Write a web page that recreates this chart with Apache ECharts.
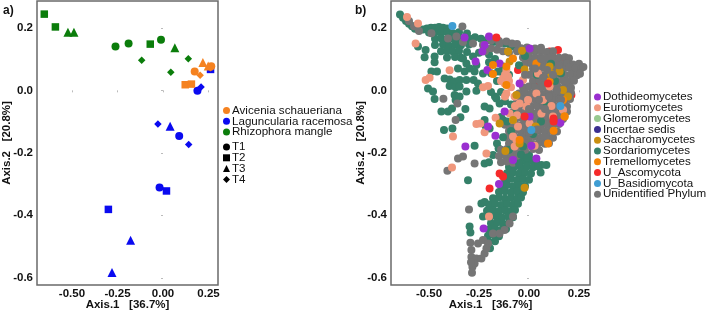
<!DOCTYPE html>
<html><head><meta charset="utf-8">
<style>html,body{margin:0;padding:0;background:#fff}#c{width:707px;height:313px}</style>
<script src="https://cdn.jsdelivr.net/npm/echarts@6/dist/echarts.min.js"></script></head>
<body><div id="c"></div>
<script>
// Panel a: values, [Axis.1, Axis.2]
const avicenia_T1=[[0.174,0.060],[0.265,0.077]];
const avicenia_T2=[[0.122,0.018],[0.156,0.020]];
const avicenia_T3=[[0.219,0.089],[0.248,0.078]];
const avicenia_T4=[[0.204,0.048],[0.260,0.072]];
const laguncularia_T1=[[0.189,-0.001],[0.089,-0.146],[-0.019,-0.311]];
const laguncularia_T2=[[0.261,0.067],[0.019,-0.322],[-0.300,-0.381]];
const laguncularia_T3=[[0.039,-0.115],[-0.178,-0.480],[-0.280,-0.583]];
const laguncularia_T4=[[0.209,0.011],[-0.028,-0.108],[0.141,-0.173]];
const rhizophora_T1=[[-0.261,0.140],[-0.189,0.150],[-0.011,0.162]];
const rhizophora_T2=[[-0.652,0.244],[-0.591,0.203],[-0.070,0.148]];
const rhizophora_T3=[[-0.522,0.186],[-0.489,0.186],[0.065,0.136]];
const rhizophora_T4=[[-0.117,0.096],[0.043,0.058],[0.139,0.101]];
const speciesNames=['Avicenia schaueriana','Laguncularia racemosa','Rhizophora mangle'];
const timeNames=['T1','T2','T3','T4'];
const classNames=['Dothideomycetes','Eurotiomycetes','Glomeromycetes','Incertae sedis','Saccharomycetes','Sordariomycetes','Tremellomycetes','U_Ascomycota','U_Basidiomycota','Unidentified Phylum'];
const xTicks=[-0.5,-0.25,0,0.25];
const yTicks=[-0.6,-0.4,-0.2,0,0.2];

// Panel b: values, [Axis.1, Axis.2]
const sordarioBack=[
[-.645,.243],[-.63,.232],[-.615,.222],[-.6,.213],[-.585,.205],[-.57,.197],[-.55,.192],[-.53,.195],[-.51,.198],[-.49,.2],[-.47,.2],[-.45,.203],[-.43,.2],[-.41,.198],
[-.5,.185],[-.47,.186],[-.44,.184],[-.41,.187],[-.38,.183],[-.35,.186],[-.31,.182],
[-.47,.165],[-.44,.167],[-.41,.164],[-.38,.166],[-.35,.163],[-.32,.167],[-.29,.164],
[-.47,.145],[-.43,.147],[-.40,.143],[-.37,.146],[-.34,.144],[-.30,.147],
[-.44,.125],[-.41,.127],[-.38,.124],[-.35,.126],[-.31,.123],
[-.41,.105],[-.37,.107],[-.34,.104],[-.28,.108],
[-.555,.14],[-.517,.129],[-.522,.106],[-.472,.108],[-.472,.09],[-.488,.06],[-.46,.06],[-.505,.006],[-.48,-.004],[-.472,-.028],
[-.438,-.068],[-.405,-.068],[-.385,-.058],[-.425,-.127],[-.383,-.122],[-.318,-.06],[-.367,-.031],[-.343,-.086],
[-.422,.038],[-.397,.035],[-.372,.028],[-.347,.033],[-.313,.033],[-.322,.06],[-.272,.06],[-.277,.033],[-.255,.022],[-.263,-.001],[-.313,-.004],[-.397,.014],[-.367,.01],[-.347,.012],[-.372,-.015],[-.347,-.02],[-.355,.07],[-.297,.07],[-.23,.054],[-.263,.081],[-.313,.086],[-.33,.102],
[-.222,-.052],[-.197,-.058],[-.163,-.026],[-.147,-.042],[-.13,-.095],[-.222,-.095],[-.217,-.114],[-.197,-.122],[-.272,-.177],[-.16,-.17],[-.152,-.186],[-.18,-.207],[-.222,-.234],[-.2,-.23],[-.305,-.288],[-.297,-.436],[-.293,-.455],[-.23,-.404],[-.238,-.362],[-.222,-.357],[.058,-.263],[.087,-.239],[.062,-.239],
[-.27,.17],[-.24,.165],[-.21,.16],[-.18,.155],[-.15,.15],[-.12,.15],[-.09,.14],[-.06,.13],[-.25,.12],[-.2,.115],[-.2,.09],[-.17,.1],
[-.06,-.205],[-.03,-.203],[0,-.207],
[-.08,-.225],[-.05,-.223],[-.02,-.226],[.01,-.224],[.035,-.227],
[-.10,-.245],[-.07,-.243],[-.04,-.247],[-.01,-.244],[.02,-.246],[.045,-.243],
[-.11,-.265],[-.08,-.263],[-.05,-.267],[-.02,-.264],[.01,-.266],
[-.12,-.285],[-.09,-.283],[-.06,-.287],[-.03,-.284],[0,-.286],
[-.14,-.305],[-.11,-.303],[-.08,-.307],[-.05,-.304],[-.02,-.306],
[-.15,-.325],[-.12,-.323],[-.09,-.327],[-.06,-.324],[-.03,-.326],
[-.18,-.345],[-.15,-.343],[-.12,-.347],[-.09,-.344],[-.06,-.346],[-.04,-.343],
[-.20,-.365],[-.17,-.363],[-.14,-.367],[-.11,-.364],[-.08,-.366],[-.055,-.363],
[-.21,-.385],[-.18,-.383],[-.15,-.387],[-.12,-.384],[-.09,-.386],[-.07,-.383],
[-.195,-.405],[-.165,-.403],[-.135,-.407],[-.105,-.404],[-.08,-.406],
[-.19,-.425],[-.16,-.423],[-.13,-.427],[-.10,-.424],
[-.2,-.445],[-.17,-.443],[-.14,-.447],[-.115,-.444],
[-.205,-.465],[-.175,-.463],[-.15,-.467],
[-.20,-.485],[-.17,-.483],[-.195,-.505]];
const ascomycotaBack=[[.045,.092],[-.055,.065],[.103,.124],[-.013,.092],[.078,.017],[.05,-.095],[.145,.129],[.212,-.015],[.18,.1],[.04,.02]];
const unidentified=[
[-.6,.222],[-.575,.205],[-.55,.19],[-.488,.183],[-.333,.204],[-.405,.166],[-.363,.172],[-.33,.155],[-.28,.15],[-.23,.145],[-.188,.161],[-.147,.15],[-.113,.156],[-.19,.16],[-.15,.158],
[-.1,.12],[-.13,.125],[-.16,.13],[-.19,.135],[-.22,.125],
[-.428,-.027],[-.367,-.095],[-.358,-.042],[-.355,-.218],[-.33,-.212],[-.272,-.234],[-.408,-.257],[-.3,-.381],
[-.293,-.488],[-.288,-.511],[-.288,-.533],[-.283,-.565],[-.285,-.584],[-.263,-.538],[-.238,-.538],[-.222,-.522],[-.255,-.49],[-.23,-.479],[-.205,-.49],[-.18,-.458],[-.213,-.506],[-.272,-.554],[-.29,-.55],
[-.08,-.404],[-.097,-.426],[-.122,-.447],[-.147,-.458],
[-.085,.15],[-.06,.148],[-.04,.135],[-.01,.137],[.03,.134],[.06,.136],
[-.06,.125],[-.03,.123],[0,.126],[.03,.124],[.06,.127],[.09,.123],[.12,.125],
[-.03,.105],[0,.107],[.03,.104],[.06,.106],[.09,.103],[.12,.107],[.15,.104],[.18,.106],[.2,.103],
[-.02,.085],[.01,.087],[.04,.084],[.07,.086],[.10,.083],[.13,.087],[.16,.084],[.19,.086],[.22,.083],[.25,.085],
[.02,.07],[.05,.068],[.08,.072],[.11,.069],[.14,.071],[.17,.068],[.20,.072],[.23,.069],[.26,.071],[.272,.075],
[0,.05],[.03,.052],[.06,.049],[.09,.051],[.12,.048],[.15,.052],[.18,.049],[.21,.051],[.24,.048],[.255,.053],
[.02,.03],[.05,.032],[.08,.029],[.11,.031],[.14,.028],[.17,.032],[.20,.029],[.225,.031],
[-.03,.01],[0,.012],[.03,.009],[.06,.011],[.09,.008],[.12,.012],[.15,.009],[.18,.011],[.21,.008],
[-.05,-.01],[-.02,-.008],[.01,-.011],[.04,-.009],[.07,-.012],[.10,-.008],[.13,-.011],[.16,-.009],[.19,-.012],[.21,-.008],
[-.06,-.03],[-.03,-.028],[0,-.031],[.03,-.029],[.06,-.032],[.09,-.028],[.12,-.031],[.15,-.029],[.18,-.032],[.205,-.028],
[-.05,-.05],[-.02,-.048],[.01,-.051],[.04,-.049],[.07,-.052],[.10,-.048],[.13,-.051],[.16,-.049],[.19,-.052],
[-.08,-.07],[-.05,-.068],[-.02,-.071],[.01,-.069],[.04,-.072],[.07,-.068],[.10,-.071],[.13,-.069],[.16,-.072],[.19,-.068],
[-.07,-.09],[-.04,-.088],[-.01,-.091],[.02,-.089],[.05,-.092],[.08,-.088],[.11,-.091],[.14,-.089],[.17,-.092],
[-.12,-.11],[-.09,-.108],[-.06,-.111],[-.03,-.109],[0,-.112],[.03,-.108],[.06,-.111],[.09,-.109],[.12,-.112],[.15,-.108],
[-.1,-.13],[-.07,-.128],[-.04,-.131],[-.01,-.129],[.02,-.132],[.05,-.128],[.08,-.131],[.11,-.129],[.14,-.132],
[-.12,-.15],[-.09,-.148],[-.06,-.151],[-.03,-.149],[0,-.152],[.03,-.148],[.06,-.151],[.09,-.149],[.12,-.152],
[-.1,-.17],[-.07,-.168],[-.04,-.171],[-.01,-.169],[.02,-.172],[.05,-.168],[.08,-.171],[.1,-.169],
[-.14,-.19],[-.11,-.188],[-.08,-.191],[-.05,-.189],[-.02,-.192],[.02,-.188],[.05,-.191],
[-.15,-.21],[-.12,-.208],[-.09,-.211],[-.06,-.209],[-.14,-.23],[-.11,-.228],[-.08,-.232]];
const sordarioFront=[
[-.19,.055],[-.16,.03],[-.13,.055],[-.1,.05],[-.115,.025],[-.14,-.005],[-.17,-.02],[-.19,-.005],[-.12,-.035],[-.09,-.045],[-.08,-.075],[-.14,-.085],[-.11,-.1],[-.13,-.15],[-.09,-.13],[-.06,-.16],[-.1,-.19],[-.03,-.18],[.02,-.14],[.06,-.1],[.09,-.05],[.13,.03],[.16,.055],[.11,.085],[.04,.05],[-.05,.08],[-.02,.11],[-.13,.076],[-.155,.06],
[-.04,-.205],[-.01,-.215],[-.05,-.235]];
const eurotio=[
[-.567,.15],[-.517,.033],[-.497,.04],[-.397,.064],[-.38,-.148],[-.385,-.247],[-.263,-.108],[-.243,-.106],[-.222,-.134],[-.167,-.088],[-.213,-.202],[-.2,-.404],[-.61,.235],[-.555,.214],[-.23,.01],[-.205,.014],[-.13,.038],[-.122,.022],[-.105,.044],[-.113,-.01],[-.072,-.02],[-.047,-.042],[-.013,-.052],[-.097,-.074],[-.08,-.095],[-.08,-.148],[-.063,-.159],[.028,-.177],[.112,-.05],[-.005,-.031],[.037,-.01],[.07,-.031],[.062,-.074],[.003,-.106],[-.055,-.116],[-.072,-.18],[-.03,.033],[-.113,.065],[.045,.054],[.103,.012],[.17,-.063],[.12,-.084],
[-.14,.03],[-.12,.05],[-.1,.03],[-.09,.01],[-.12,-.02],[-.07,-.05],[-.06,-.08]];
const saccharo=[[-.035,.127],[-.022,.067],[.112,.052],[.17,.001],[.195,-.02],[.178,-.084],[.033,-.116],[-.118,-.194],[-.022,-.312],[-.047,-.17],[-.097,.092],[-.08,-.095],[.103,.076],[-.147,-.106],[.153,.06],[-.105,.124],[-.063,-.015]];
const dothideo=[[-.322,.169],[-.222,.145],[-.233,.124],[-.267,.092],[-.208,.065],[-.147,.086],[-.2,.172],[-.047,.022],[-.122,-.068],[-.205,-.116],[-.168,-.145],[-.318,-.18],[-.15,-.3],[-.227,-.442],[.157,-.104],[.003,-.084],[.012,-.177],[.037,-.218],[-.08,-.223],[.003,.134]];
const tremello=[[-.18,.052],[-.18,.081],[-.113,.076],[-.08,.102],[.123,-.129],[.103,.028],[.037,.086],[.178,-.084],[-.113,.017],[-.047,-.159],[.095,-.17],[.17,-.031]];
const ascomycota=[[-.163,.169],[.095,.022],[-.197,-.314],[.123,-.1],[.123,-.09],[-.022,-.084],[-.147,-.266],[-.13,-.276]];
const basidio=[[-.383,.206],[.157,-.05],[.012,-.127]];
const unidentifiedFront=[[.12,.05],[.09,.065],[.15,.08],[.06,.1],[.03,.07],[.18,.03],[.14,0],[.1,-.02],[.05,-.03],[0,-.06],[.16,-.03],[.08,-.06],[.04,-.125],[0,-.135],[-.02,.05],[.07,.04]];
const glomero=[];
const incertae=[];

const ORANGE='#f58220',BLUE='#0a0af0',GREEN='#0b7d0b';
const classColors=['#9a2fd0','#f0977c','#97c98f','#3b2f8f','#c98f10','#358069','#f58305','#f52a2a','#3f9dd3','#757575'];
const F='"Liberation Sans",Arial,sans-serif';
function axes(idx,min,max,ticks,dec,name,gap,margin){
  return {gridIndex:idx,type:'value',min,max,splitLine:{show:false},axisLine:{show:false},
    axisTick:{show:true,length:2,lineStyle:{color:'#bbb'},customValues:ticks},
    axisLabel:{customValues:ticks,color:'#111',fontFamily:F,fontWeight:'bold',fontSize:11.5,margin,formatter:v=>v.toFixed(dec),showMinLabel:true,showMaxLabel:true},
    name,nameLocation:'middle',nameGap:gap,nameMoveOverlap:false,nameTextStyle:{color:'#111',fontFamily:F,fontWeight:'bold',fontSize:11.5}};
}
function sa(name,data,color,symbol,size){
  return {type:'scatter',name,data,xAxisIndex:0,yAxisIndex:0,symbol,symbolSize:size,itemStyle:{color,opacity:1},emphasis:{disabled:true},animation:false};
}
function sb(name,data,color){
  return {type:'scatter',name,data,xAxisIndex:1,yAxisIndex:1,symbol:'circle',symbolSize:8,itemStyle:{color,opacity:1},emphasis:{disabled:true},animation:false,large:false};
}
const series=[
  sa('Avicenia schaueriana',[],ORANGE,'circle',8),sa('Laguncularia racemosa',[],BLUE,'circle',8),sa('Rhizophora mangle',[],GREEN,'circle',8),
  sa('T1',[],'#000','circle',8),sa('T2',[],'#000','rect',7.5),sa('T3',[],'#000','triangle',9),sa('T4',[],'#000','diamond',7.5),
  sa('g1',rhizophora_T1,GREEN,'circle',8),sa('g2',rhizophora_T2,GREEN,'rect',7.5),sa('g3',rhizophora_T3,GREEN,'triangle',9),sa('g4',rhizophora_T4,GREEN,'diamond',7.5),
  sa('b1',laguncularia_T1,BLUE,'circle',8),sa('b2',laguncularia_T2,BLUE,'rect',7.5),sa('b3',laguncularia_T3,BLUE,'triangle',9),sa('b4',laguncularia_T4,BLUE,'diamond',7.5),
  sa('o1',avicenia_T1,ORANGE,'circle',8),sa('o2',avicenia_T2,ORANGE,'rect',7.5),sa('o3',avicenia_T3,ORANGE,'triangle',9),sa('o4',avicenia_T4,ORANGE,'diamond',7.5),
  sb(classNames[5],sordarioBack,classColors[5]),
  sb(classNames[7],ascomycotaBack,classColors[7]),
  sb(classNames[9],unidentified,classColors[9]),
  sb(classNames[5],sordarioFront,classColors[5]),
  sb(classNames[1],eurotio,classColors[1]),
  sb(classNames[2],glomero,classColors[2]),
  sb(classNames[3],incertae,classColors[3]),
  sb(classNames[4],saccharo,classColors[4]),
  sb(classNames[0],dothideo,classColors[0]),
  sb(classNames[6],tremello,classColors[6]),
  sb(classNames[9],unidentifiedFront,classColors[9]),
  sb(classNames[7],ascomycota,classColors[7]),
  sb(classNames[8],basidio,classColors[8])
];
function legend(names,left,top,gap){
  return {data:names,orient:'vertical',left,top,itemWidth:7,itemHeight:7,itemGap:gap,padding:0,selectedMode:false,
    textStyle:{fontFamily:F,fontSize:11.6,color:'#111',lineHeight:10,padding:[0,0,0,-3]}};
}
const chart=echarts.init(document.getElementById('c'),null,{renderer:'canvas'});
chart.setOption({
  animation:false,backgroundColor:'#fff',
  grid:[
    {left:37,right:489,top:1,bottom:28,outerBoundsMode:'none',show:true,borderColor:'#6a6a6a',borderWidth:1.5,backgroundColor:'#fff'},
    {left:391,right:117,top:1,bottom:28,outerBoundsMode:'none',show:true,borderColor:'#6a6a6a',borderWidth:1.5,backgroundColor:'#fff'}
  ],
  xAxis:[axes(0,-0.692,0.302,xTicks,2,'Axis.1   [36.7%]',14,3),axes(1,-0.69,0.305,xTicks,2,'Axis.1   [36.7%]',14,3)],
  yAxis:[axes(0,-0.623,0.286,yTicks,1,'Axis.2   [20.8%]',24,4),axes(1,-0.623,0.286,yTicks,1,'Axis.2   [20.8%]',24,4)],
  legend:[legend(speciesNames,223,104.5,-1.2),legend(timeNames,223,141,-1.2),legend(classNames,594,91,-1.2)],
  series,
  graphic:[
    {type:'text',left:3,top:5,style:{text:'a)',font:'bold 12px '+F,fill:'#111'}},
    {type:'text',left:355,top:5,style:{text:'b)',font:'bold 12px '+F,fill:'#111'}}
  ]
});
</script></body></html>
